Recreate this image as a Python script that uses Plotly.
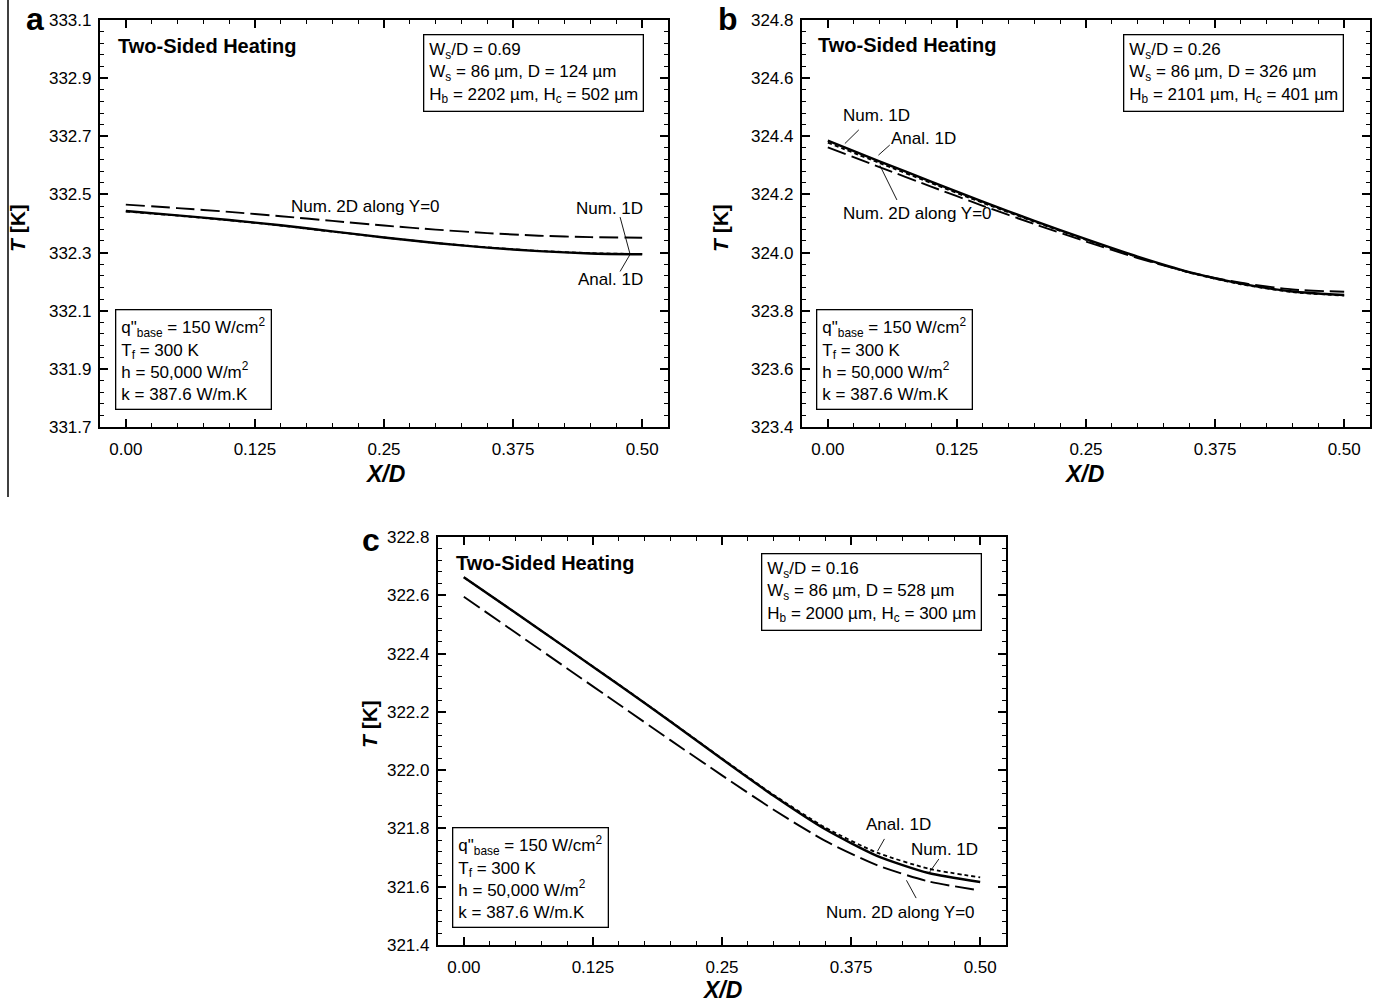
import plotly.graph_objects as go

W, H = 1380, 1008
FONT = "Liberation Sans, Arial, Helvetica, sans-serif"

# ---------------- data ----------------
x_pos = [0.0, 0.05, 0.1, 0.15, 0.2, 0.25, 0.3, 0.35, 0.4, 0.45, 0.5]

a_anal = [332.443, 332.428, 332.412, 332.394, 332.373, 332.352, 332.333, 332.317, 332.305, 332.297, 332.294]
a_num1d = [332.441, 332.427, 332.411, 332.393, 332.372, 332.352, 332.333, 332.318, 332.306, 332.298, 332.295]
a_num2d = [332.465, 332.453, 332.440, 332.425, 332.409, 332.393, 332.379, 332.367, 332.358, 332.353, 332.351]

b_anal = [324.385, 324.314, 324.244, 324.175, 324.109, 324.046, 323.986, 323.933, 323.893, 323.866, 323.854]
b_num1d = [324.378, 324.308, 324.239, 324.171, 324.106, 324.044, 323.984, 323.931, 323.891, 323.864, 323.852]
b_num2d = [324.362, 324.294, 324.227, 324.161, 324.098, 324.038, 323.981, 323.932, 323.896, 323.873, 323.865]

c_anal = [322.662, 322.540, 322.417, 322.293, 322.167, 322.038, 321.912, 321.797, 321.706, 321.647, 321.616]
c_num1d = [322.662, 322.540, 322.417, 322.294, 322.168, 322.040, 321.915, 321.803, 321.717, 321.662, 321.632]
c_num2d = [322.595, 322.472, 322.349, 322.226, 322.103, 321.982, 321.864, 321.757, 321.674, 321.618, 321.587]

x_tickvals = [0.0, 0.125, 0.25, 0.375, 0.5]
x_ticktext = ["0.00", "0.125", "0.25", "0.375", "0.50"]

y_range_a = [331.7, 333.1]
y_range_b = [323.4, 324.8]
y_range_c = [321.4, 322.8]

box_geom = "W<sub>s</sub>/D = {r}<br>W<sub>s</sub> = 86 µm, D = {d} µm<br>H<sub>b</sub> = {hb} µm, H<sub>c</sub> = {hc} µm"
geom_a = dict(r="0.69", d="124", hb="2202", hc="502")
geom_b = dict(r="0.26", d="326", hb="2101", hc="401")
geom_c = dict(r="0.16", d="528", hb="2000", hc="300")
box_cond = "q\"<sub>base</sub> = 150 W/cm<sup>2</sup><br>T<sub>f</sub> = 300 K<br>h = 50,000 W/m<sup>2</sup><br>k = 387.6 W/m.K"


def px(x):
    return x / W


def py(y):
    return 1 - y / H


panels = [
    # main-axis suffix, minor-axis suffix, x-domain px, y-domain px, yrange, series
    ("", "4", (100, 668), (20, 427), y_range_a, (a_anal, a_num1d, a_num2d)),
    ("2", "5", (802, 1370), (20, 427), y_range_b, (b_anal, b_num1d, b_num2d)),
    ("3", "6", (438, 1006), (537, 945), y_range_c, (c_anal, c_num1d, c_num2d)),
]

fig = go.Figure()
layout = dict(
    width=W, height=H, margin=dict(l=0, r=0, t=0, b=0),
    paper_bgcolor="white", plot_bgcolor="white", showlegend=False,
    font=dict(family=FONT, color="black", size=16),
)

XR = [-0.025, 0.525]

for suf, msuf, (x0, x1), (y0, y1), yr, (anal, n1, n2) in panels:
    xa = "x" + suf
    ya = "y" + suf
    fig.add_trace(go.Scatter(x=x_pos, y=anal, mode="lines", xaxis=xa, yaxis=ya,
                             line=dict(color="black", width=2.4, shape="spline", smoothing=0.6)))
    fig.add_trace(go.Scatter(x=x_pos, y=n1, mode="lines", xaxis=xa, yaxis=ya,
                             line=dict(color="black", width=1.8, dash="4px,3px", shape="spline", smoothing=0.6)))
    fig.add_trace(go.Scatter(x=x_pos, y=n2, mode="lines", xaxis=xa, yaxis=ya,
                             line=dict(color="black", width=1.9, dash="19px,6px", shape="spline", smoothing=0.6)))
    # empty trace so the minor-tick overlay axes are drawn
    fig.add_trace(go.Scatter(x=[None], y=[None], mode="lines", xaxis="x" + msuf, yaxis="y" + msuf,
                             hoverinfo="skip"))
    layout["xaxis" + suf] = dict(
        domain=[px(x0), px(x1)], anchor=ya, range=XR,
        tickmode="array", tickvals=x_tickvals, ticktext=x_ticktext,
        ticks="inside", ticklen=8, tickwidth=1.6, tickcolor="black",
        showline=True, linewidth=2.2, linecolor="black", mirror="allticks",
        showgrid=False, zeroline=False, automargin=False,
        tickfont=dict(size=17, family=FONT), ticklabelstandoff=5,
    )
    layout["yaxis" + suf] = dict(
        domain=[py(y1), py(y0)], anchor=xa, range=yr,
        tickmode="linear", tick0=yr[0], dtick=0.2, tickformat=".1f",
        ticks="inside", ticklen=8, tickwidth=1.6, tickcolor="black",
        showline=True, linewidth=2.2, linecolor="black", mirror="allticks",
        showgrid=False, zeroline=False, automargin=False,
        tickfont=dict(size=17, family=FONT), ticklabelstandoff=3,
    )
    # minor tick overlays
    layout["xaxis" + msuf] = dict(
        domain=[px(x0), px(x1)], anchor="y" + msuf, overlaying=xa, range=XR,
        tickmode="linear", tick0=0, dtick=0.025,
        ticks="inside", ticklen=4, tickwidth=1.3, tickcolor="black",
        showline=True, linewidth=2.2, linecolor="black", mirror="allticks",
        showticklabels=False, showgrid=False, zeroline=False, automargin=False,
    )
    layout["yaxis" + msuf] = dict(
        domain=[py(y1), py(y0)], anchor="x" + msuf, overlaying=ya, range=yr,
        tickmode="linear", tick0=yr[0], dtick=0.04,
        ticks="inside", ticklen=4, tickwidth=1.3, tickcolor="black",
        showline=True, linewidth=2.2, linecolor="black", mirror="allticks",
        showticklabels=False, showgrid=False, zeroline=False, automargin=False,
    )

ann = []


def text_at(text, x, y, size=16, xanchor="center", yanchor="middle", **kw):
    d = dict(text=text, xref="paper", yref="paper", x=px(x), y=py(y), xanchor=xanchor,
             yanchor=yanchor, showarrow=False, font=dict(size=size, family=FONT, color="black"))
    d.update(kw)
    ann.append(d)


def data_text(text, suf, x, y, size=17, xanchor="center"):
    ann.append(dict(text=text, xref="x" + suf, yref="y" + suf, x=x, y=y, xanchor=xanchor,
                    yanchor="middle", showarrow=False,
                    font=dict(size=size, family=FONT, color="black")))


def box(text, x, y):
    ann.append(dict(text=text, xref="paper", yref="paper", x=px(x), y=py(y), xanchor="left",
                    yanchor="top", align="left", showarrow=False, bordercolor="black",
                    borderwidth=1.3, borderpad=5, bgcolor="white",
                    font=dict(size=17, family=FONT, color="black")))


# panel letters
text_at("<b>a</b>", 35, 19, size=32)
text_at("<b>b</b>", 728, 19, size=32)
text_at("<b>c</b>", 371, 540, size=32)

# titles inside plot
text_at("<b>Two-Sided Heating</b>", 116, 46, size=20, xanchor="left")
text_at("<b>Two-Sided Heating</b>", 816, 45, size=20, xanchor="left")
text_at("<b>Two-Sided Heating</b>", 454, 563, size=20, xanchor="left")

# axis titles
text_at("<b><i>T</i> [K]</b>", 18, 228, size=21, textangle=-90)
text_at("<b><i>T</i> [K]</b>", 721, 228, size=21, textangle=-90)
text_at("<b><i>T</i> [K]</b>", 369, 724, size=21, textangle=-90)
text_at("<b><i>X/D</i></b>", 385, 474, size=23)
text_at("<b><i>X/D</i></b>", 1084, 474, size=23)
text_at("<b><i>X/D</i></b>", 722, 990, size=23)

# parameter boxes
box(box_geom.format(**geom_a), 423, 34)
box(box_geom.format(**geom_b), 1123, 34)
box(box_geom.format(**geom_c), 761, 553)
box(box_cond, 115, 309)
box(box_cond, 816, 309)
box(box_cond, 452, 827)

# curve labels
data_text("Num. 2D along Y=0", "", 0.232, 332.457)
data_text("Num. 1D", "", 0.503, 332.450, xanchor="right")
data_text("Anal. 1D", "", 0.503, 332.206, xanchor="right")

data_text("Num. 1D", "2", 0.0475, 324.473)
data_text("Anal. 1D", "2", 0.093, 324.394)
data_text("Num. 2D along Y=0", "2", 0.087, 324.136)

data_text("Anal. 1D", "3", 0.421, 321.812)
data_text("Num. 1D", "3", 0.465, 321.727)
data_text("Num. 2D along Y=0", "3", 0.423, 321.513)

layout["annotations"] = ann

# leader lines
leaders = [
    ("", 0.4786, 332.422, 0.4883, 332.294),
    ("", 0.4883, 332.294, 0.4786, 332.235),
    ("2", 0.030, 324.422, 0.0165, 324.375),
    ("2", 0.060, 324.370, 0.049, 324.335),
    ("2", 0.0669, 324.181, 0.0504, 324.300),
    ("3", 0.4073, 321.764, 0.4006, 321.722),
    ("3", 0.460, 321.695, 0.451, 321.650),
    ("3", 0.438, 321.561, 0.4286, 321.622),
]
shapes = []
for suf, xa0, ya0, xa1, ya1 in leaders:
    shapes.append(dict(type="line", xref="x" + suf, yref="y" + suf, x0=xa0, y0=ya0, x1=xa1, y1=ya1,
                       line=dict(color="black", width=0.9)))
# scan artefact: thin vertical rule at the far left
shapes.append(dict(type="line", xref="paper", yref="paper", x0=px(8), x1=px(8), y0=py(0), y1=py(497),
                   line=dict(color="black", width=1.5)))
layout["shapes"] = shapes

fig.update_layout(**layout)
fig.write_html("out.html", config={"displayModeBar": False},
               post_script="document.body.style.margin='0';")
